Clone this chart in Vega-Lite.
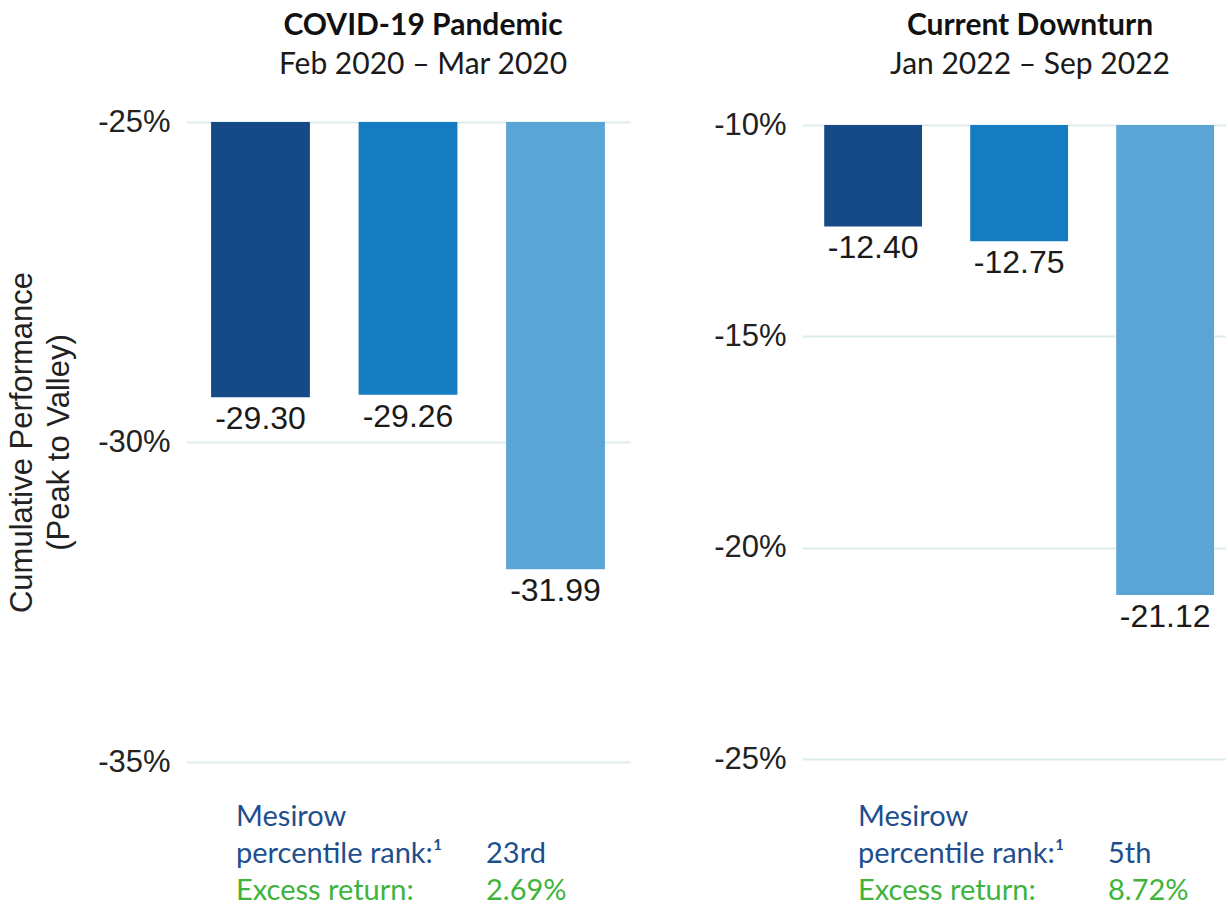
{
  "$schema": "https://vega.github.io/schema/vega-lite/v6.json",
  "background": "white",
  "padding": {"left": 6, "top": 11, "right": 0, "bottom": 0},
  "datasets": {
    "covid": [
      {"series": "Mesirow", "value": -29.30},
      {"series": "Peer median", "value": -29.26},
      {"series": "Benchmark", "value": -31.99}
    ],
    "downturn": [
      {"series": "Mesirow", "value": -12.40},
      {"series": "Peer median", "value": -12.75},
      {"series": "Benchmark", "value": -21.12}
    ],
    "covid_table": [
      {"line": "1", "col": "label", "text": "Mesirow", "kind": "rank"},
      {"line": "2", "col": "label", "text": "percentile rank:¹", "kind": "rank"},
      {"line": "2", "col": "value", "text": "23rd", "kind": "rank"},
      {"line": "3", "col": "label", "text": "Excess return:", "kind": "excess"},
      {"line": "3", "col": "value", "text": "2.69%", "kind": "excess"}
    ],
    "downturn_table": [
      {"line": "1", "col": "label", "text": "Mesirow", "kind": "rank"},
      {"line": "2", "col": "label", "text": "percentile rank:¹", "kind": "rank"},
      {"line": "2", "col": "value", "text": "5th", "kind": "rank"},
      {"line": "3", "col": "label", "text": "Excess return:", "kind": "excess"},
      {"line": "3", "col": "value", "text": "8.72%", "kind": "excess"}
    ]
  },
  "columns": 2,
  "bounds": "flush",
  "center": true,
  "spacing": {"column": 172, "row": 64},
  "resolve": {"scale": {"color": "independent"}},
  "concat": [
    {
      "width": 444,
      "height": 640,
      "data": {"name": "covid"},
      "title": {
        "text": "COVID-19 Pandemic",
        "subtitle": "Feb 2020 – Mar 2020",
        "anchor": "middle", "frame": "group", "dx": 15, "offset": 26,
        "font": "Lato", "fontSize": 30, "fontWeight": "bold", "color": "#111111",
        "subtitleFont": "Lato", "subtitleFontSize": 30, "subtitleColor": "#1a1a1a", "subtitlePadding": 9
      },
      "encoding": {
        "x": {"field": "series", "type": "nominal", "sort": null, "axis": null,
              "scale": {"paddingInner": 0.33, "paddingOuter": 0.17}},
        "y": {"field": "value", "type": "quantitative",
              "scale": {"domain": [-35, -25], "nice": false, "zero": false},
              "axis": {
                "values": [-35, -30, -25],
                "labelExpr": "'-' + abs(datum.value) + '%'",
                "domain": false, "ticks": false, "tickSize": 0,
                "grid": true, "gridColor": "#deeceb", "gridWidth": 2,
                "labelFont": "Liberation Sans", "labelFontSize": 31, "labelColor": "#222222", "labelPadding": 16,
                "title": ["Cumulative Performance", "(Peak to Valley)"],
                "titleFont": "Liberation Sans", "titleFontSize": 31, "titleFontWeight": "normal",
                "titleColor": "#222222", "titlePadding": 22, "titleLineHeight": 37
              }}
      },
      "layer": [
        {
          "mark": {"type": "bar"},
          "encoding": {
            "y2": {"datum": -25},
            "color": {"field": "series", "type": "nominal", "legend": null,
                      "scale": {"domain": ["Mesirow", "Peer median", "Benchmark"],
                                "range": ["#164a87", "#167cc1", "#5ba4d6"]}}
          }
        },
        {
          "mark": {"type": "text", "baseline": "top", "dy": 7, "font": "Liberation Sans", "fontSize": 32,
                   "color": "#1a1a1a", "text": {"expr": "'-' + format(abs(datum.value), '.2f')"}},
          "encoding": {}
        }
      ]
    },
    {
      "width": 424,
      "height": 634,
      "data": {"name": "downturn"},
      "title": {
        "text": "Current Downturn",
        "subtitle": "Jan 2022 – Sep 2022",
        "anchor": "middle", "frame": "group", "dx": 16, "offset": 29,
        "font": "Lato", "fontSize": 30, "fontWeight": "bold", "color": "#111111",
        "subtitleFont": "Lato", "subtitleFontSize": 30, "subtitleColor": "#1a1a1a", "subtitlePadding": 9
      },
      "encoding": {
        "x": {"field": "series", "type": "nominal", "sort": null, "axis": null,
              "scale": {"paddingInner": 0.33, "paddingOuter": 0.117, "align": 0.65}},
        "y": {"field": "value", "type": "quantitative",
              "scale": {"domain": [-25, -10], "nice": false, "zero": false},
              "axis": {
                "values": [-25, -20, -15, -10],
                "labelExpr": "'-' + abs(datum.value) + '%'",
                "domain": false, "ticks": false, "tickSize": 0,
                "grid": true, "gridColor": "#deeceb", "gridWidth": 2,
                "labelFont": "Liberation Sans", "labelFontSize": 31, "labelColor": "#222222", "labelPadding": 16,
                "title": null
              }}
      },
      "layer": [
        {
          "mark": {"type": "bar"},
          "encoding": {
            "y2": {"datum": -10},
            "color": {"field": "series", "type": "nominal", "legend": null,
                      "scale": {"domain": ["Mesirow", "Peer median", "Benchmark"],
                                "range": ["#164a87", "#167cc1", "#5ba4d6"]}}
          }
        },
        {
          "mark": {"type": "text", "baseline": "top", "dy": 7, "font": "Liberation Sans", "fontSize": 32,
                   "color": "#1a1a1a", "text": {"expr": "'-' + format(abs(datum.value), '.2f')"}},
          "encoding": {}
        }
      ]
    },
    {
      "width": 444,
      "height": 74,
      "data": {"name": "covid_table"},
      "mark": {"type": "text", "align": "left", "baseline": "alphabetic", "font": "Lato", "fontSize": 29},
      "encoding": {
        "x": {"field": "col", "type": "nominal", "axis": null,
              "scale": {"type": "point", "domain": ["label", "value"], "padding": 0.388, "align": 0.258}},
        "y": {"field": "line", "type": "ordinal", "axis": null,
              "scale": {"type": "point", "domain": ["1", "2", "3"], "padding": 0}},
        "color": {"field": "kind", "type": "nominal", "legend": null,
                  "scale": {"domain": ["rank", "excess"], "range": ["#1d4f8e", "#3fb43c"]}},
        "text": {"field": "text", "type": "nominal"}
      }
    },
    {
      "width": 424,
      "height": 74,
      "data": {"name": "downturn_table"},
      "mark": {"type": "text", "align": "left", "baseline": "alphabetic", "font": "Lato", "fontSize": 29},
      "encoding": {
        "x": {"field": "col", "type": "nominal", "axis": null,
              "scale": {"type": "point", "domain": ["label", "value"], "padding": 0.348, "align": 0.322}},
        "y": {"field": "line", "type": "ordinal", "axis": null,
              "scale": {"type": "point", "domain": ["1", "2", "3"], "padding": 0}},
        "color": {"field": "kind", "type": "nominal", "legend": null,
                  "scale": {"domain": ["rank", "excess"], "range": ["#1d4f8e", "#3fb43c"]}},
        "text": {"field": "text", "type": "nominal"}
      }
    }
  ],
  "config": {
    "view": {"stroke": null}
  }
}
